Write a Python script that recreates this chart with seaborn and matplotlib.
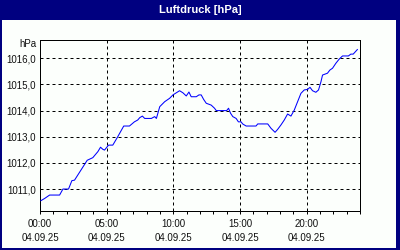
import matplotlib
matplotlib.use("Agg")
import matplotlib.pyplot as plt
import seaborn as sns
import pandas as pd
from matplotlib.patches import Rectangle
from matplotlib.ticker import MultipleLocator

# ---- data (hours since 00:00, pressure hPa) ----
hours = [0.05, 0.35, 0.72, 1.47, 1.72, 2.14, 2.39, 2.59, 3.54, 3.96, 4.34, 4.54, 4.71,
         4.84, 5.14, 5.46, 5.83, 6.28, 6.71, 7.08, 7.33, 7.48, 7.68, 7.85, 8.35, 8.6,
         8.73, 8.98, 9.35, 9.72, 9.97, 10.22, 10.47, 10.72, 10.97, 11.17, 11.34, 11.72,
         11.92, 12.09, 12.27, 12.47, 12.84, 13.09, 13.22, 14.0, 14.14, 14.29, 14.46,
         14.71, 14.88, 15.08, 15.2, 15.46, 16.2, 16.33, 17.08, 17.33, 17.63, 17.82,
         18.07, 18.32, 18.57, 18.82, 19.07, 19.32, 19.57, 19.82, 20.07, 20.25, 20.44,
         20.69, 20.89, 21.07, 21.19, 21.56, 21.74, 21.94, 22.19, 22.44, 22.69, 23.13,
         23.31, 23.49, 23.81]
pressure = [1010.55, 1010.64, 1010.77, 1010.77, 1011.0, 1011.0, 1011.32, 1011.34, 1012.1,
            1012.2, 1012.43, 1012.6, 1012.52, 1012.49, 1012.68, 1012.68, 1013.0, 1013.41,
            1013.41, 1013.57, 1013.64, 1013.73, 1013.79, 1013.7, 1013.7, 1013.77, 1013.7,
            1014.15, 1014.34, 1014.47, 1014.6, 1014.68, 1014.76, 1014.68, 1014.56, 1014.71,
            1014.53, 1014.53, 1014.6, 1014.6, 1014.43, 1014.28, 1014.21, 1014.09, 1014.0,
            1014.0, 1014.09, 1013.9, 1013.77, 1013.7, 1013.57, 1013.57, 1013.49, 1013.41,
            1013.41, 1013.49, 1013.49, 1013.32, 1013.17, 1013.28, 1013.45, 1013.64, 1013.87,
            1013.79, 1014.02, 1014.34, 1014.66, 1014.79, 1014.81, 1014.89, 1014.76, 1014.7,
            1014.79, 1015.1, 1015.36, 1015.43, 1015.55, 1015.62, 1015.81, 1015.97, 1016.09,
            1016.09, 1016.16, 1016.16, 1016.34]
tick_hours = [0, 5, 10, 15, 20]
tick_times = ["00:00", "05:00", "10:00", "15:00", "20:00"]
tick_date = "04.09.25"
y_ticks = [1011, 1012, 1013, 1014, 1015, 1016]
title = "Luftdruck [hPa]"
unit = "hPa"

sns.set_theme(style="white")
plt.rcParams['font.family'] = ['Liberation Sans', 'DejaVu Sans']

W, H = 400, 250
NAVY = "#000080"
fig = plt.figure(figsize=(4, 2.5), dpi=100)
fig.patch.set_facecolor("#fcfffc")

# frame and title bar
for (x0, y0, w, h) in [(0, H - 20, W, 20), (0, 0, 2, H), (W - 4, 0, 4, H), (0, 0, W, 2)]:
    fig.add_artist(Rectangle((x0 / W, y0 / H), w / W, h / H, transform=fig.transFigure,
                             facecolor=NAVY, edgecolor="none", zorder=0))
fig.text(0.5, 1 - 10 / H, title, ha="center", va="center", color="white",
         fontweight="bold", fontsize=8)

ax = fig.add_axes([40 / W, 1 - 211 / H, 320 / W, 171 / H])
ax.set_facecolor("#fcfffc")
df = pd.DataFrame({"h": hours, "p": pressure})
sns.lineplot(data=df, x="h", y="p", ax=ax, color="#0000ff", linewidth=0.75,
             antialiased=True, zorder=3)

ax.set_xlim(0, 24)
ax.set_ylim(1010.16, 1016.70)
ax.set_xlabel("")
ax.set_ylabel("")

ax.set_xticks(tick_hours)
ax.set_xticklabels([f"{t}\n{tick_date}" for t in tick_times])
ax.xaxis.set_minor_locator(MultipleLocator(1))
ax.set_yticks(y_ticks)
ax.set_yticklabels([f"{v},0" for v in y_ticks])

ax.tick_params(axis="x", which="both", direction="out", length=2.5, width=0.72,
               color="black", labelsize=7, labelcolor="#111111", pad=3, bottom=True)
ax.tick_params(axis="y", which="both", length=0, labelsize=7, labelcolor="#111111", pad=3)
for lab in ax.get_xticklabels():
    lab.set_linespacing(1.5)

ax.grid(True, which="major", color="black", linestyle=(0, (3, 3)), linewidth=0.72)
ax.grid(False, which="minor")
for s in ax.spines.values():
    s.set_visible(True)
    s.set_color("black")
    s.set_linewidth(0.72)

ax.text(-4 / 320, 1 - 4.5 / 171, unit, transform=ax.transAxes, ha="right", va="center",
        fontsize=7, color="#111111")

fig.savefig("out.png", dpi=100, facecolor=fig.get_facecolor())
